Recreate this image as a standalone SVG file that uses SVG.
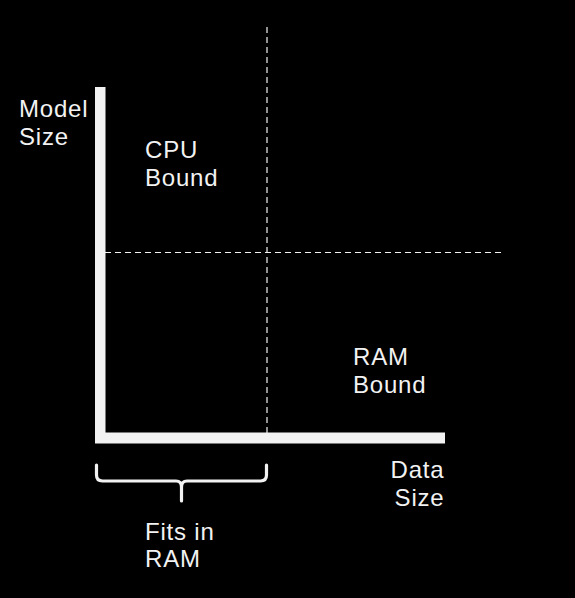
<svg xmlns="http://www.w3.org/2000/svg" width="575" height="598" viewBox="0 0 575 598">
<style>
text{font-family:"Liberation Sans",Arial,sans-serif;font-size:24px;letter-spacing:0.8px;fill:#f2f2f2}
.dash{stroke:#f2f2f2;stroke-width:1.2;stroke-dasharray:6,4;fill:none}
.axis{fill:#f2f2f2}
</style>
<rect width="575" height="598" fill="#000"/>
<g id="connectors">
<line class="dash" x1="267" y1="27" x2="267" y2="433"/>
<line class="dash" x1="105" y1="252.5" x2="505" y2="252.5"/>
</g>
<g id="axes">
<rect class="axis" x="95" y="87" width="10.5" height="356"/>
<rect class="axis" x="95" y="432.5" width="350" height="11"/>
</g>
<g id="brace">
<path d="M96.5,465 V475 Q96.5,481 102.5,481 H176 Q181.5,481 181.5,487 V501 M181.5,487 Q181.5,481 187,481 H260.5 Q266.5,481 266.5,475 V465" fill="none" stroke="#f2f2f2" stroke-width="3.2" stroke-linecap="round"/>
</g>
<g id="label-model"><text x="19" y="117">Model</text><text x="19" y="144.5">Size</text></g>
<g id="label-cpu"><text x="145" y="158">CPU</text><text x="145" y="185.5">Bound</text></g>
<g id="label-ram"><text x="353" y="365">RAM</text><text x="353" y="392.5">Bound</text></g>
<g id="label-data"><text x="444.5" y="478" text-anchor="end">Data</text><text x="444.5" y="505.5" text-anchor="end">Size</text></g>
<g id="label-fits"><text x="145" y="540">Fits in</text><text x="145" y="567">RAM</text></g>
</svg>
